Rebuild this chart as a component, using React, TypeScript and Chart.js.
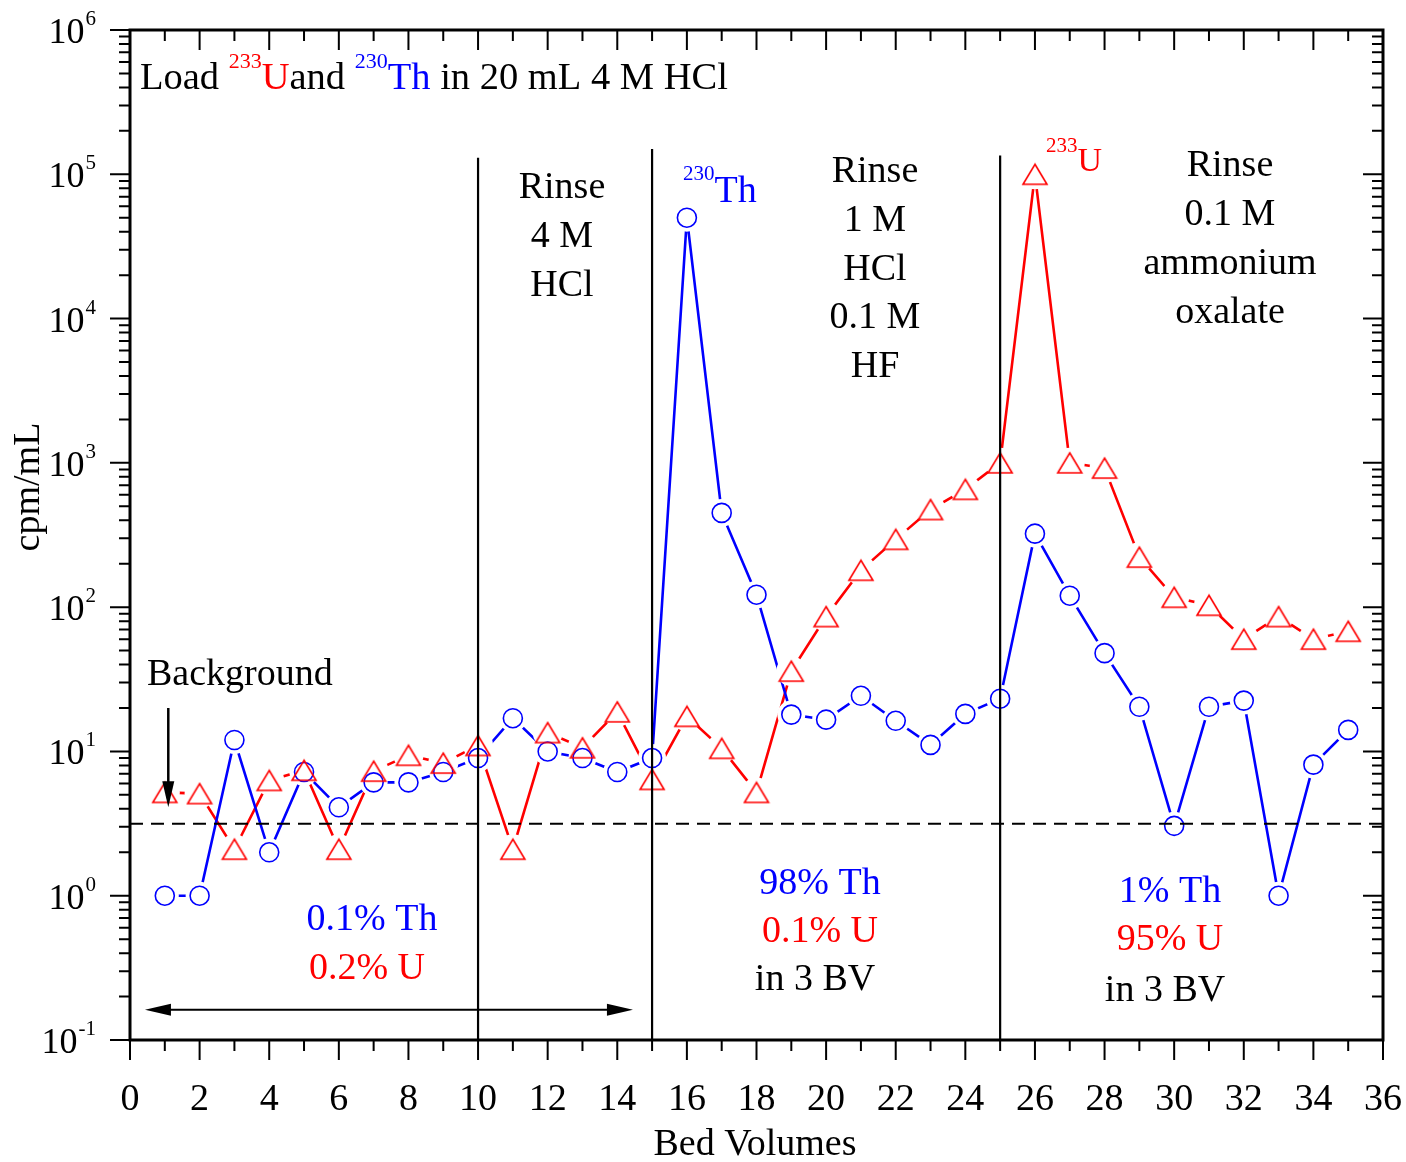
import React, { useEffect, useRef } from "react";
import { Chart, registerables } from "chart.js";

Chart.register(...registerables);

// ---------------- data ----------------
const bedVolumes = [
  1, 2, 3, 4, 5, 6, 7, 8, 9, 10, 11, 12, 13, 14, 15, 16, 17, 18, 19, 20, 21, 22, 23, 24, 25, 26, 27, 28,
  29, 30, 31, 32, 33, 34, 35,
];
const thCpm = [
  1, 1, 12, 2, 7.2, 4.1, 6.1, 6.1, 7.2, 9, 17, 10, 9, 7.2, 9, 50000, 450, 122, 18, 16.6, 24.3, 16.3, 11.1,
  18.2, 23.2, 323, 120, 48, 20.4, 3.05, 20.4, 22.5, 1, 8.1, 14.1,
];
const uCpm = [
  5.2, 5.1, 2.1, 6.3, 7.4, 2.1, 7.3, 9.4, 8.3, 11, 2.1, 13.5, 10.6, 18.8, 6.4, 17.5, 10.5, 5.2, 36, 86,
  180, 295, 475, 655, 1000, 100000, 1000, 920, 222, 117, 103, 60, 86, 60, 68,
];
const xTickValues = [0, 2, 4, 6, 8, 10, 12, 14, 16, 18, 20, 22, 24, 26, 28, 30, 32, 34, 36];
const yDecades = [-1, 0, 1, 2, 3, 4, 5, 6];
const backgroundLevel = 3.15;
const dividerX = [10, 15, 25];
const dividerTop = [1.3e5, 1.5e5, 1.35e5];

const SERIF = '"Liberation Serif", "Times New Roman", serif';
const BLUE = "#0000ff";
const RED = "#ff0000";

type Seg = { t: string; c: string; s: number; dy?: number };

function drawRich(ctx: CanvasRenderingContext2D, segs: Seg[], x: number, y: number, align: "left" | "center") {
  let total = 0;
  for (const sg of segs) {
    ctx.font = `${sg.s}px ${SERIF}`;
    total += ctx.measureText(sg.t).width;
  }
  let cx = align === "center" ? x - total / 2 : x;
  ctx.textAlign = "left";
  ctx.textBaseline = "alphabetic";
  for (const sg of segs) {
    ctx.font = `${sg.s}px ${SERIF}`;
    ctx.fillStyle = sg.c;
    ctx.fillText(sg.t, cx, y + (sg.dy || 0));
    cx += ctx.measureText(sg.t).width;
  }
}

function centerLines(ctx: CanvasRenderingContext2D, lines: string[], x: number, y0: number, step: number, color = "#000") {
  lines.forEach((l, i) => drawRich(ctx, [{ t: l, c: color, s: 38 }], x, y0 + i * step, "center"));
}

function makeTriangle(color: string): HTMLCanvasElement {
  const c = document.createElement("canvas");
  c.width = 28;
  c.height = 24;
  const g = c.getContext("2d")!;
  g.strokeStyle = color;
  g.lineWidth = 1.6;
  g.beginPath();
  g.moveTo(14, 2);
  g.lineTo(26, 22);
  g.lineTo(2, 22);
  g.closePath();
  g.stroke();
  return c;
}

const decorPlugin = {
  id: "decor",
  afterDraw(chart: any) {
    const ctx: CanvasRenderingContext2D = chart.ctx;
    const { left, right, top, bottom } = chart.chartArea;
    const xs = chart.scales.x;
    const ys = chart.scales.y;
    ctx.save();

    // arrows (positions in data space)
    ctx.strokeStyle = "#000";
    ctx.fillStyle = "#000";
    ctx.lineWidth = 2.5;
    const ax = xs.getPixelForValue(1.1);
    const ay0 = ys.getPixelForValue(20);
    const ay1 = ys.getPixelForValue(4.1);
    ctx.beginPath();
    ctx.moveTo(ax, ay0);
    ctx.lineTo(ax, ay1 - 20);
    ctx.stroke();
    ctx.beginPath();
    ctx.moveTo(ax, ay1);
    ctx.lineTo(ax - 6, ay1 - 26);
    ctx.lineTo(ax + 6, ay1 - 26);
    ctx.closePath();
    ctx.fill();

    const dy = ys.getPixelForValue(0.162);
    const dx0 = xs.getPixelForValue(0.43);
    const dx1 = xs.getPixelForValue(14.45);
    ctx.lineWidth = 2.2;
    ctx.beginPath();
    ctx.moveTo(dx0 + 20, dy);
    ctx.lineTo(dx1 - 20, dy);
    ctx.stroke();
    ctx.beginPath();
    ctx.moveTo(dx0, dy);
    ctx.lineTo(dx0 + 26, dy - 6);
    ctx.lineTo(dx0 + 26, dy + 6);
    ctx.closePath();
    ctx.fill();
    ctx.beginPath();
    ctx.moveTo(dx1, dy);
    ctx.lineTo(dx1 - 26, dy - 6);
    ctx.lineTo(dx1 - 26, dy + 6);
    ctx.closePath();
    ctx.fill();

    // frame
    ctx.lineWidth = 3;
    ctx.strokeStyle = "#000";
    ctx.strokeRect(left, top, right - left, bottom - top);

    // x ticks
    ctx.lineWidth = 2;
    for (let v = 0; v <= 36; v++) {
      const px = xs.getPixelForValue(v);
      const len = v % 2 === 0 ? 20 : 11;
      ctx.beginPath();
      ctx.moveTo(px, bottom);
      ctx.lineTo(px, bottom + len);
      ctx.moveTo(px, top);
      ctx.lineTo(px, top + len);
      ctx.stroke();
    }
    ctx.fillStyle = "#000";
    ctx.font = `38px ${SERIF}`;
    ctx.textAlign = "center";
    ctx.textBaseline = "alphabetic";
    for (const v of xTickValues) {
      ctx.fillText(String(v), xs.getPixelForValue(v), 1110);
    }

    // y ticks
    for (const d of yDecades) {
      const base = Math.pow(10, d);
      const py = ys.getPixelForValue(base);
      ctx.beginPath();
      ctx.moveTo(left - 20, py);
      ctx.lineTo(left, py);
      ctx.moveTo(right - 20, py);
      ctx.lineTo(right, py);
      ctx.stroke();
      if (d < 6) {
        for (let k = 2; k <= 9; k++) {
          const pm = ys.getPixelForValue(k * base);
          ctx.beginPath();
          ctx.moveTo(left - 11, pm);
          ctx.lineTo(left, pm);
          ctx.moveTo(right - 11, pm);
          ctx.lineTo(right, pm);
          ctx.stroke();
        }
      }
      // label
      const exp = String(d);
      ctx.font = `21px ${SERIF}`;
      ctx.textAlign = "right";
      ctx.fillText(exp, 96, py - 5);
      const ew = ctx.measureText(exp).width;
      ctx.font = `36px ${SERIF}`;
      ctx.fillText("10", 96 - ew - 1, py + 13);
    }

    // axis titles
    ctx.textAlign = "center";
    ctx.font = `38px ${SERIF}`;
    ctx.fillText("Bed Volumes", 755, 1155);
    ctx.save();
    ctx.translate(39, 487);
    ctx.rotate(-Math.PI / 2);
    ctx.fillText("cpm/mL", 0, 0);
    ctx.restore();

    // annotations
    drawRich(
      ctx,
      [
        { t: "Load ", c: "#000", s: 38.5 },
        { t: "233", c: RED, s: 22, dy: -21 },
        { t: "U", c: RED, s: 38.5 },
        { t: "and ", c: "#000", s: 38.5 },
        { t: "230", c: BLUE, s: 22, dy: -21 },
        { t: "Th", c: BLUE, s: 38.5 },
        { t: " in 20 mL 4 M HCl", c: "#000", s: 38.5 },
      ],
      140,
      89,
      "left"
    );
    centerLines(ctx, ["Rinse", "4 M", "HCl"], 562, 198, 49);
    centerLines(ctx, ["Rinse", "1 M", "HCl", "0.1 M", "HF"], 875, 182, 48.8);
    centerLines(ctx, ["Rinse", "0.1 M", "ammonium", "oxalate"], 1230, 176, 49);
    drawRich(
      ctx,
      [
        { t: "230", c: BLUE, s: 21, dy: -22 },
        { t: "Th", c: BLUE, s: 38 },
      ],
      683,
      202,
      "left"
    );
    drawRich(
      ctx,
      [
        { t: "233", c: RED, s: 21, dy: -19 },
        { t: "U", c: RED, s: 34 },
      ],
      1046,
      171,
      "left"
    );
    drawRich(ctx, [{ t: "Background", c: "#000", s: 38 }], 147, 685, "left");

    drawRich(ctx, [{ t: "0.1% Th", c: BLUE, s: 38 }], 372, 930, "center");
    drawRich(ctx, [{ t: "0.2% U", c: RED, s: 38 }], 367, 979, "center");
    drawRich(ctx, [{ t: "98% Th", c: BLUE, s: 38 }], 820, 894, "center");
    drawRich(ctx, [{ t: "0.1% U", c: RED, s: 38 }], 820, 942, "center");
    drawRich(ctx, [{ t: "in 3 BV", c: "#000", s: 38 }], 815, 990, "center");
    drawRich(ctx, [{ t: "1% Th", c: BLUE, s: 38 }], 1170, 902, "center");
    drawRich(ctx, [{ t: "95% U", c: RED, s: 38 }], 1170, 950, "center");
    drawRich(ctx, [{ t: "in 3 BV", c: "#000", s: 38 }], 1165, 1001, "center");

    ctx.restore();
  },
};

export default function App() {
  const ref = useRef<HTMLCanvasElement>(null);

  useEffect(() => {
    document.body.style.margin = "0";
    const canvas = ref.current!;
    const thPts = bedVolumes.map((x, i) => ({ x, y: thCpm[i] }));
    const uPts = bedVolumes.map((x, i) => ({ x, y: uCpm[i] }));
    const triRed = makeTriangle(RED);

    const dividerSets = dividerX.map((x, i) => ({
      data: [
        { x, y: 0.1 },
        { x, y: dividerTop[i] },
      ],
      borderColor: "#000",
      borderWidth: 2.2,
      pointRadius: 0,
      showLine: true,
      order: 1,
    }));

    const chart = new Chart(canvas, {
      type: "line",
      data: {
        datasets: [
          { data: thPts, borderColor: BLUE, borderWidth: 2.6, pointRadius: 0, tension: 0, order: 10 },
          { data: uPts, borderColor: RED, borderWidth: 2.6, pointRadius: 0, tension: 0, order: 10 },
          {
            data: thPts,
            showLine: false,
            pointStyle: "circle",
            pointRadius: 14,
            pointBackgroundColor: "#fff",
            pointBorderColor: "#fff",
            pointBorderWidth: 0,
            order: 8,
          },
          {
            data: uPts,
            showLine: false,
            pointStyle: "circle",
            pointRadius: 15,
            pointBackgroundColor: "#fff",
            pointBorderColor: "#fff",
            pointBorderWidth: 0,
            order: 8,
          },
          {
            data: thPts,
            showLine: false,
            pointStyle: "circle",
            pointRadius: 9.5,
            pointBackgroundColor: "rgba(0,0,0,0)",
            pointBorderColor: BLUE,
            pointBorderWidth: 1.6,
            order: 6,
          },
          {
            data: uPts,
            showLine: false,
            pointStyle: triRed as any,
            pointRadius: 12,
            order: 5,
          },
          {
            data: [
              { x: 0, y: backgroundLevel },
              { x: 36, y: backgroundLevel },
            ],
            borderColor: "#000",
            borderWidth: 2,
            borderDash: [13, 8],
            pointRadius: 0,
            order: 1,
          },
          ...dividerSets,
        ] as any,
      },
      options: {
        animation: false,
        responsive: false,
        devicePixelRatio: 1,
        events: [],
        layout: { padding: { left: 130, top: 30, right: 23, bottom: 122 } },
        plugins: { legend: { display: false }, tooltip: { enabled: false } },
        scales: {
          x: { type: "linear", min: 0, max: 36, display: false },
          y: { type: "logarithmic", min: 0.1, max: 1e6, display: false },
        },
      } as any,
      plugins: [decorPlugin],
    });
    return () => chart.destroy();
  }, []);

  return <canvas ref={ref} width={1406} height={1162} style={{ display: "block" }} />;
}
